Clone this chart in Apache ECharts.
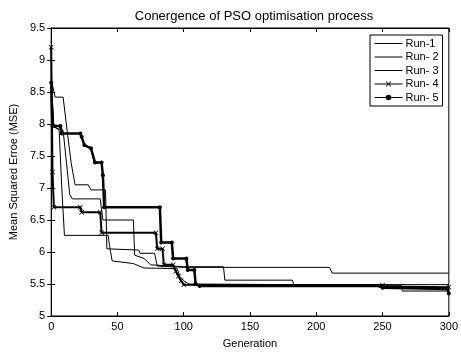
<!DOCTYPE html>
<html>
<head>
<meta charset="utf-8">
<script src="https://cdn.jsdelivr.net/npm/echarts@6/dist/echarts.min.js"></script>
<style>
  html, body { margin: 0; padding: 0; background: #fff; }
  #chart { width: 461px; height: 354px; }
</style>
</head>
<body>
<div id="chart"></div>
<script>
// legend names, as printed in the figure
const runNames = ['Run-1', 'Run- 2', 'Run- 3', 'Run- 4', 'Run- 5'];

// [generation, MSE] at the points where each run changes
const run1 = [[0, 8.7], [3, 8.42], [9, 8.42], [12, 7.9], [15, 7.4], [18, 7.05], [28, 7.05], [30, 6.97],
  [41, 6.97], [42, 6.05], [66, 6.03], [67, 5.98], [78, 5.98], [80, 5.78], [100, 5.76], [210, 5.76],
  [212, 5.67], [300, 5.67]];
const run2 = [[0, 8.7], [2, 7.97], [6, 7.9], [8, 7.0], [10, 6.26], [43, 6.26], [44, 6.1], [46, 5.86],
  [62, 5.82], [70, 5.75], [95, 5.74], [97, 5.62], [100, 5.55], [104, 5.5], [264, 5.48], [265, 5.39],
  [300, 5.39]];
const run3 = [[0, 8.6], [2, 7.95], [9, 7.9], [11, 7.5], [14, 6.9], [16, 6.83], [37, 6.83], [39, 6.5],
  [62, 6.5], [63, 5.95], [70, 5.9], [75, 5.8], [100, 5.77], [130, 5.77], [131, 5.56], [182, 5.56],
  [183, 5.49], [300, 5.49]];
const run4 = [[0, 9.2], [1, 7.25], [2, 6.7], [22, 6.7], [23, 6.62], [37, 6.62], [38, 6.3], [79, 6.3],
  [80, 6.05], [84, 6.05], [85, 5.8], [92, 5.8], [94, 5.7], [96, 5.62], [98, 5.55], [100, 5.49],
  [250, 5.48], [252, 5.46], [300, 5.45]];
const run5 = [[0, 8.65], [1, 7.97], [7, 7.97], [8, 7.85], [22, 7.85], [23, 7.8], [25, 7.67], [30, 7.62],
  [33, 7.4], [38, 7.4], [39, 7.2], [40, 6.7], [82, 6.7], [83, 6.15], [91, 6.15], [92, 5.9], [102, 5.9],
  [103, 5.72], [108, 5.72], [109, 5.5], [112, 5.47], [248, 5.47], [250, 5.44], [299, 5.42], [300, 5.35]];

const xRange = [0, 300, 50];
const yRange = [5, 9.5, 0.5];

const font = 'Liberation Sans, Arial, sans-serif';
const crossMark = 'path://M0,1L1,0L5,4L9,0L10,1L6,5L10,9L9,10L5,6L1,10L0,9L4,5Z';
// plain line icon for the legend entries without markers
const plainLine = 'path://M0,0L28,0L28,1L0,1Z';

const myChart = echarts.init(document.getElementById('chart'));

const tickStyle = { inside: true, length: 4, lineStyle: { color: '#000' } };

myChart.setOption({
  animation: false,
  backgroundColor: '#fff',
  title: {
    text: 'Conergence of PSO optimisation process',
    left: 249,
    top: 5,
    textAlign: 'center',
    textStyle: { fontFamily: font, fontSize: 13, fontWeight: 'normal', color: '#000' },
  },
  grid: {
    left: 51,
    right: 11,
    top: 28,
    bottom: 36,
    show: true,
    borderColor: '#000',
    borderWidth: 1,
  },
  legend: {
    data: [
      { name: runNames[0], icon: plainLine },
      { name: runNames[1], icon: plainLine },
      { name: runNames[2], icon: plainLine },
      { name: runNames[3] },
      { name: runNames[4] },
    ],
    orient: 'vertical',
    left: 370,
    top: 35,
    padding: [3, 4, 3, 4],
    itemWidth: 28,
    itemHeight: 7,
    itemGap: 2.5,
    borderColor: '#000',
    borderWidth: 1,
    backgroundColor: '#fff',
    lineStyle: { width: 1 },
    textStyle: { fontFamily: font, fontSize: 11, color: '#000', padding: [0, 0, 0, -2] },
  },
  xAxis: [
    {
      type: 'value',
      min: xRange[0],
      max: xRange[1],
      interval: xRange[2],
      name: 'Generation',
      nameLocation: 'middle',
      nameGap: 22,
      nameTextStyle: { fontFamily: font, fontSize: 11, color: '#000' },
      axisLine: { show: true, lineStyle: { color: '#000' } },
      axisTick: tickStyle,
      axisLabel: { fontFamily: font, fontSize: 11, color: '#000', margin: 5 },
      splitLine: { show: false },
    },
    {
      type: 'value',
      position: 'top',
      min: xRange[0],
      max: xRange[1],
      interval: xRange[2],
      axisLine: { show: true, lineStyle: { color: '#000' } },
      axisTick: tickStyle,
      axisLabel: { show: false },
      splitLine: { show: false },
    },
  ],
  yAxis: [
    {
      type: 'value',
      min: yRange[0],
      max: yRange[1],
      interval: yRange[2],
      name: 'Mean Squared Erroe (MSE)',
      nameLocation: 'middle',
      nameGap: 30,
      nameTextStyle: { fontFamily: font, fontSize: 11, color: '#000' },
      axisLine: { show: true, lineStyle: { color: '#000' } },
      axisTick: tickStyle,
      axisLabel: { fontFamily: font, fontSize: 11, color: '#000', margin: 6 },
      splitLine: { show: false },
    },
    {
      type: 'value',
      position: 'right',
      min: yRange[0],
      max: yRange[1],
      interval: yRange[2],
      axisLine: { show: true, lineStyle: { color: '#000' } },
      axisTick: tickStyle,
      axisLabel: { show: false },
      splitLine: { show: false },
    },
  ],
  series: [
    { name: runNames[0], type: 'line', data: run1, symbol: 'none', color: '#000', lineStyle: { width: 1 } },
    { name: runNames[1], type: 'line', data: run2, symbol: 'none', color: '#000', lineStyle: { width: 1 } },
    { name: runNames[2], type: 'line', data: run3, symbol: 'none', color: '#000', lineStyle: { width: 1 } },
    {
      name: runNames[3], type: 'line', data: run4, color: '#000',
      symbol: crossMark, symbolSize: 5, showAllSymbol: true,
      lineStyle: { width: 2 },
    },
    {
      name: runNames[4], type: 'line', data: run5, color: '#000',
      symbol: 'circle', symbolSize: 4, showAllSymbol: true,
      lineStyle: { width: 2.5 },
    },
  ],
});
</script>
</body>
</html>
